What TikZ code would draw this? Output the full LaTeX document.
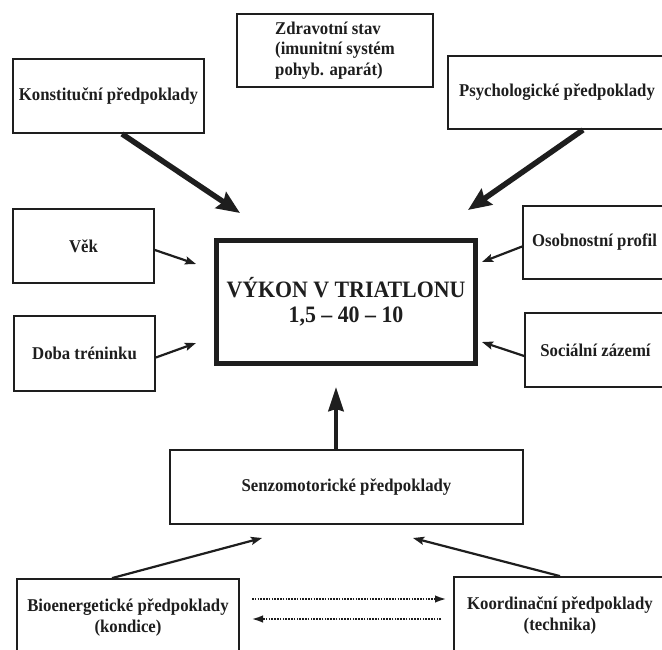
\documentclass[tikz,border=0pt]{standalone}
\usepackage{fontspec}
\setmainfont[FakeStretch=0.93]{Liberation Serif}
\usetikzlibrary{arrows.meta,calc}
\definecolor{ink}{HTML}{1E1E1E}
\begin{document}
\begin{tikzpicture}[x=1pt,y=-1pt,
  boxnode/.style={draw=ink, line width=1.8pt, align=center, inner sep=0pt,
    text=ink, font=\fontsize{18}{20.5}\selectfont\bfseries},
  mainbox/.style={draw=ink, line width=5pt, align=center, inner sep=0pt,
    text=ink, font=\fontsize{23.5}{25}\selectfont\bfseries},
  thickarrow/.style={draw=ink, line width=5.5pt, -{Stealth[length=23pt,width=19pt,inset=3pt]}},
  uparrow/.style={draw=ink, line width=4.5pt, -{Stealth[length=24pt,width=15pt,inset=2pt]}},
  thinarrow/.style={draw=ink, line width=2.2pt, -{Stealth[length=11pt,width=8pt,inset=2pt]}},
  dotarrow/.style={draw=ink, line width=2.4pt, dash pattern=on 1.6pt off 1.2pt, -{Latex[length=12pt,width=7.5pt]}}
]
\useasboundingbox (0,0) rectangle (662,649);
\clip (0,0) rectangle (662,649);
\fill[white] (0,0) rectangle (662,649);

% boxes
\node[boxnode, minimum width=196pt, minimum height=73pt, align=left] (zdrav) at (335,50.5)
  {Zdravotní stav\\(imunitní systém\\pohyb. aparát)};
\node[boxnode, minimum width=191pt, minimum height=74pt] (konst) at (108.5,96) {Konstituční předpoklady};
\node[boxnode, minimum width=218pt, minimum height=73pt] (psych) at (557,92.5) {Psychologické předpoklady};
\node[boxnode, minimum width=141pt, minimum height=74pt] (vek) at (83.5,246) {Věk};
\node[boxnode, minimum width=141pt, minimum height=75pt] (doba) at (84.5,353.5) {Doba tréninku};
\node[boxnode, minimum width=143pt, minimum height=73pt] (osob) at (594.5,242.5) {Osobnostní profil};
\node[boxnode, minimum width=141pt, minimum height=74pt] (soc) at (595.5,350) {Sociální zázemí};
\node[mainbox, minimum width=259pt, minimum height=123pt] (main) at (346,302)
  {VÝKON V TRIATLONU\\1,5 – 40 – 10};
\node[boxnode, minimum width=353pt, minimum height=74pt] (senzo) at (346.5,487) {Senzomotorické předpoklady};
\node[boxnode, minimum width=222pt, minimum height=77pt] (bio) at (128,617.5)
  {Bioenergetické předpoklady\\(kondice)};
\node[boxnode, minimum width=212pt, minimum height=77pt] (koord) at (560,615.5)
  {Koordinační předpoklady\\(technika)};

% free arrow ends
\coordinate (konstTip) at (240,213);
\coordinate (psychTip) at (468,210);
\coordinate (vekTip) at (196,264);
\coordinate (dobaTip) at (196,343);
\coordinate (osobTip) at (482,262);
\coordinate (socTip) at (482,342);
\coordinate (senzoTip) at (336,387);
\coordinate (bioTip) at (262,538);
\coordinate (koordTip) at (413,538);
\coordinate (dotAstart) at (252,599);
\coordinate (dotAend) at (447,599);
\coordinate (dotBstart) at (441,619);
\coordinate (dotBend) at (251,619);

% connectors
\draw[thickarrow] ([xshift=13.5pt]konst.south) -- (konstTip);
\draw[thickarrow] ([xshift=26pt]psych.south) -- (psychTip);
\draw[thinarrow] ([yshift=-4pt]vek.east) -- (vekTip);
\draw[thinarrow] ([yshift=-4pt]doba.east) -- (dobaTip);
\draw[thinarrow] ([yshift=-4pt]osob.west) -- (osobTip);
\draw[thinarrow] ([yshift=-6pt]soc.west) -- (socTip);
\draw[uparrow] ([xshift=-10.5pt]senzo.north) -- (senzoTip);
\draw[thinarrow] ([xshift=-16pt]bio.north) -- (bioTip);
\draw[thinarrow] (koord.north) -- (koordTip);
\draw[dotarrow] (dotAstart) -- (dotAend);
\draw[dotarrow] (dotBstart) -- (dotBend);
\end{tikzpicture}
\end{document}
